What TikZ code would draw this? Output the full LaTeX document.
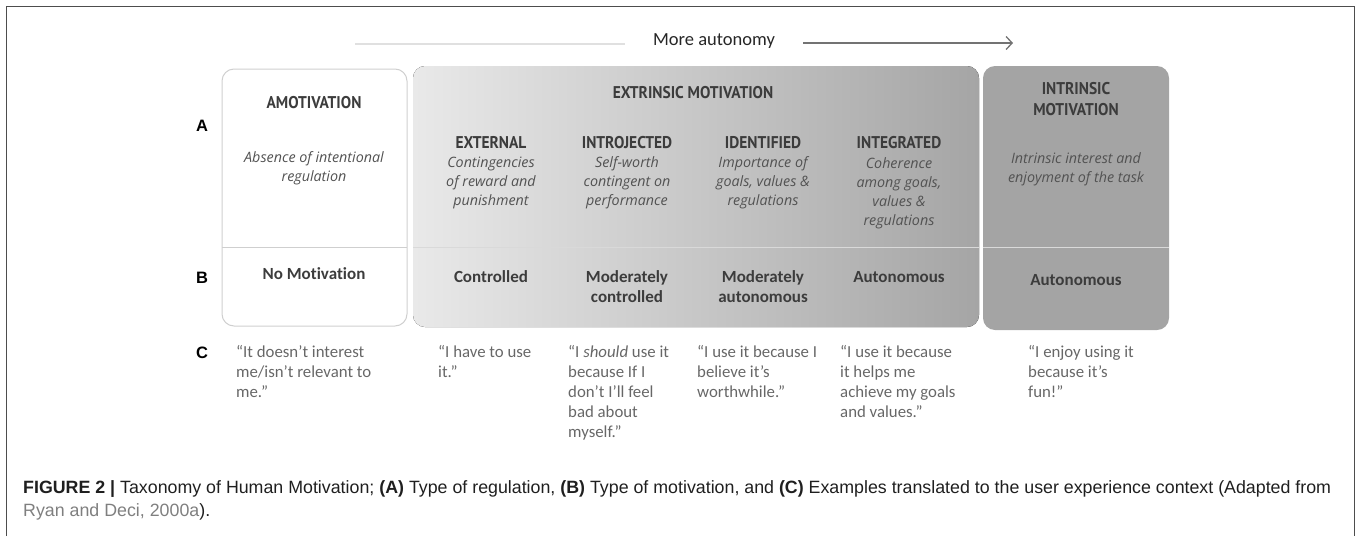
\documentclass[tikz,border=0pt]{standalone}
\usepackage{fontspec}
\setmainfont{Carlito}[Ligatures=NoCommon]
\newfontfamily\headfont[FakeStretch=0.91]{PT Sans}
\newfontfamily\descfont{Open Sans}
\newfontfamily\capfont{Liberation Sans}
\usetikzlibrary{arrows.meta}

\definecolor{framegray}{HTML}{4D4D4D}
\definecolor{headgray}{HTML}{3C3C3C}
\definecolor{descgray}{HTML}{525252}
\definecolor{quotegray}{HTML}{676767}
\definecolor{amotline}{HTML}{CFCFCF}
\definecolor{extleft}{HTML}{E9E9E9}
\definecolor{extmid}{HTML}{C6C6C6}
\definecolor{extright}{HTML}{A5A5A5}
\definecolor{intrfill}{HTML}{A4A4A4}
\definecolor{linkgray}{HTML}{7F7F7F}

\tikzset{
  head/.style={font=\headfont\bfseries\fontsize{17}{21}\selectfont, text=headgray, align=center, inner sep=0},
  desc/.style={font=\descfont\itshape\fontsize{14.3}{19}\selectfont, text=descgray, align=center, inner sep=0},
  kind/.style={font=\bfseries\fontsize{17}{20}\selectfont, text=headgray, align=center, inner sep=0},
  quote/.style={font=\fontsize{16.8}{20}\selectfont, text=quotegray, align=left, anchor=north west, inner sep=0},
  rowlab/.style={font=\capfont\bfseries\fontsize{16.5}{20}\selectfont, inner sep=0},
}

\begin{document}
\begin{tikzpicture}[x=1pt,y=-1pt]
    \useasboundingbox (0,0) rectangle (1360,536);
    \draw[framegray] (6,536) -- (6,6) -- (1354,6) -- (1354,536);

    % autonomy arrow
    \node (more) at (714,41) [font=\fontsize{18.5}{20}\selectfont, text=black!85, inner sep=0] {More autonomy};
    \coordinate (fadestart) at (355,44);
    \coordinate (arrend) at (1013,43);
    \draw[line width=2, black!12] (fadestart) -- ([xshift=-28]more.west |- fadestart);
    \draw[line width=1.3, black!55, -{Straight Barb[length=6,width=13]}] ([xshift=28]more.east |- arrend) -- (arrend);

    % boxes
    \fill[rounded corners=12, left color=extleft, middle color=extmid, right color=extright] (413,66) rectangle (979,327);
    \fill[rounded corners=12, intrfill] (983,66) rectangle (1169,330);
    \draw[rounded corners=12, amotline, line width=1] (222,69) rectangle (407,326);
    \draw[amotline, line width=1] (222,247) -- (407,247);
    \draw[white!85!black, line width=1] (413,247) -- (979,247);
    \draw[white!85!black, line width=1] (983,247) -- (1169,247);

    % row letters
    \node (la) at (202,126) [rowlab] {A};
    \node (lb) at (202,278) [rowlab] {B};
    \node (lc) at (202,353) [rowlab] {C};

    % row A
    \node (amot) at (314,103) [head] {AMOTIVATION};
    \node (amotd) at (314,168) [desc] {Absence of intentional\\regulation};
    \node (extr) at (693,93) [head] {EXTRINSIC MOTIVATION};
    \node (ext) at (491,143) [head] {EXTERNAL};
    \node (extd) at (491,183) [desc] {Contingencies\\of reward and\\punishment};
    \node (intro) at (627,143) [head] {INTROJECTED};
    \node (introd) at (627,183) [desc] {Self-worth\\contingent on\\performance};
    \node (ident) at (763,143) [head] {IDENTIFIED};
    \node (identd) at (763,183) [desc] {Importance of\\goals, values \&\\regulations};
    \node (integ) at (899,143) [head] {INTEGRATED};
    \node (integd) at (899,193) [desc] {Coherence\\among goals,\\values \&\\regulations};
    \node (intr) at (1076,99) [head] {INTRINSIC\\MOTIVATION};
    \node (intrd) at (1076,169) [desc] {Intrinsic interest and\\enjoyment of the task};

    % row B
    \node (nomot) at (314,274) [kind] {No Motivation};
    \node (ctrl) at (491,277) [kind] {Controlled};
    \node (modctrl) at (627,287) [kind] {Moderately\\controlled};
    \node (modaut) at (763,287) [kind] {Moderately\\autonomous};
    \node (aut) at (899,277) [kind] {Autonomous};
    \node (intraut) at (1076,280) [kind] {Autonomous};

    % row C
    \node (qamot) at (236,345) [quote] {“It doesn’t interest\\me/isn’t relevant to\\me.”};
    \node (qext) at (438,345) [quote] {“I have to use\\it.”};
    \node (qintro) at (568,345) [quote] {“I \textit{should} use it\\because If I\\don’t I’ll feel\\bad about\\myself.”};
    \node (qident) at (697,345) [quote] {“I use it because I\\believe it’s\\worthwhile.”};
    \node (qinteg) at (840,345) [quote] {“I use it because\\it helps me\\achieve my goals\\and values.”};
    \node (qintr) at (1028,345) [quote] {“I enjoy using it\\because it’s\\fun!”};

    % caption
    \node (cap) at (23,480) [anchor=north west, inner sep=0, align=left, text=black!88,
        font=\capfont\fontsize{17.8}{23}\selectfont]
        {\textbf{FIGURE 2 |} Taxonomy of Human Motivation; \textbf{(A)} Type of regulation, \textbf{(B)} Type of motivation, and \textbf{(C)} Examples translated to the user experience context (Adapted from\\
         \textcolor{linkgray}{Ryan and Deci, 2000a}).};
\end{tikzpicture}
\end{document}
